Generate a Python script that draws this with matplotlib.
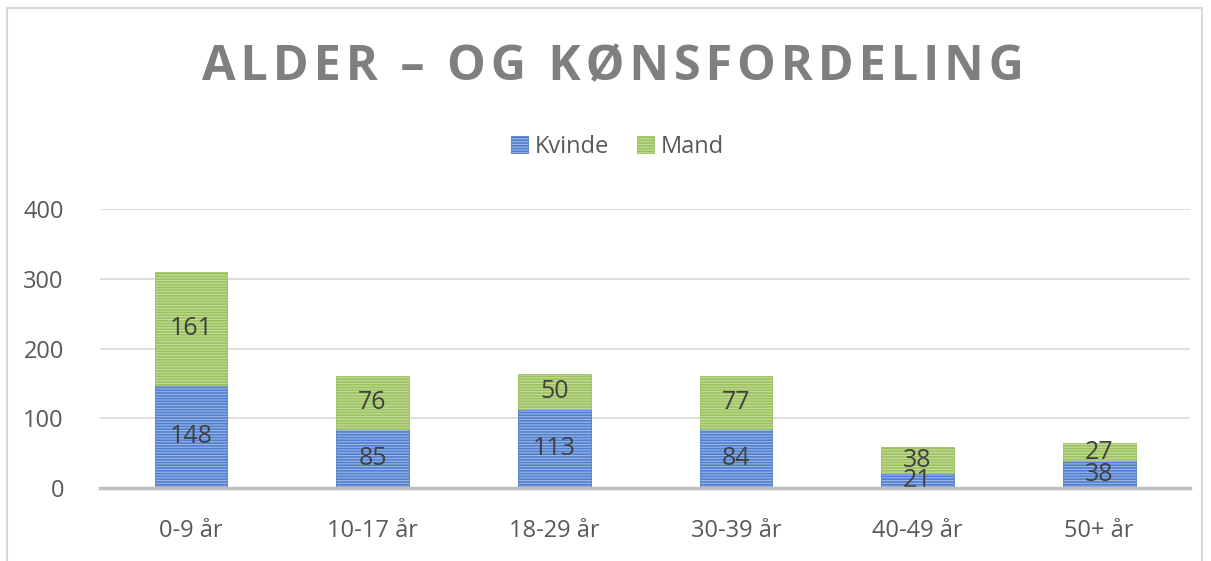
import numpy as np
import matplotlib.pyplot as plt
from matplotlib.patches import Rectangle

plt.rcParams['font.family'] = ['Open Sans', 'DejaVu Sans']
plt.rcParams['hatch.linewidth'] = 1.2

categories = ['0-9 år', '10-17 år', '18-29 år', '30-39 år', '40-49 år', '50+ år']
kvinde = [148, 85, 113, 84, 21, 38]
mand = [161, 76, 50, 77, 38, 27]

fig = plt.figure(figsize=(12.11, 5.61), dpi=100)
fig.patches.append(Rectangle((7/1211, -0.1), 1 - 16/1211, 1.1 - 8/561, transform=fig.transFigure,
                             fill=False, edgecolor='#d9d9d9', linewidth=1.5))
ax = fig.add_axes([100/1211, 1 - 488/561, 1090/1211, (488 - 209)/561])

x = np.arange(len(categories))
w = 0.4
b1 = ax.bar(x, kvinde, w, color='#9db7e3', hatch='------', linewidth=0.6, label='Kvinde', zorder=2)
b2 = ax.bar(x, mand, w, bottom=kvinde, color='#c5dba0', hatch='------', linewidth=0.6, label='Mand', zorder=2)
for p in b1:
    p.set_edgecolor('#4f7fcf')
for p in b2:
    p.set_edgecolor('#9bc25d')

for i in range(len(categories)):
    ax.text(x[i], kvinde[i] / 2, str(kvinde[i]), ha='center', va='center', fontsize=18, color='#404040', zorder=3)
    ax.text(x[i], kvinde[i] + mand[i] / 2, str(mand[i]), ha='center', va='center', fontsize=18, color='#404040', zorder=3)

ax.set_xlim(-0.5, len(categories) - 0.5)
ax.set_ylim(0, 400)
ax.set_yticks([0, 100, 200, 300, 400])
ax.yaxis.grid(True, color='#d9d9d9', linewidth=1.2, zorder=0)
ax.set_axisbelow(True)
for s in ['top', 'right', 'left']:
    ax.spines[s].set_visible(False)
ax.spines['bottom'].set_color('#bfbfbf')
ax.spines['bottom'].set_linewidth(2.5)
ax.spines['bottom'].set_zorder(4)
ax.set_xticks(x)
ax.set_xticklabels(categories)
ax.tick_params(axis='both', length=0, labelsize=17, colors='#595959')
ax.tick_params(axis='x', pad=22)
ax.tick_params(axis='y', pad=26)

title = 'ALDER – OG KØNSFORDELING'
fig.text(0.506, 1 - 68/561, '\u200a'.join(title),
         ha='center', va='center', fontsize=35, fontweight='bold', color='#7f7f7f')

leg = fig.legend(handles=[b1, b2], labels=['Kvinde', 'Mand'], loc='center', bbox_to_anchor=(0.51, 1 - 147/561),
                 ncol=2, frameon=False, fontsize=17, handlelength=0.7, handleheight=0.7,
                 handletextpad=0.3, columnspacing=1.2, labelcolor='#595959')

fig.savefig('out.png', dpi=100)
